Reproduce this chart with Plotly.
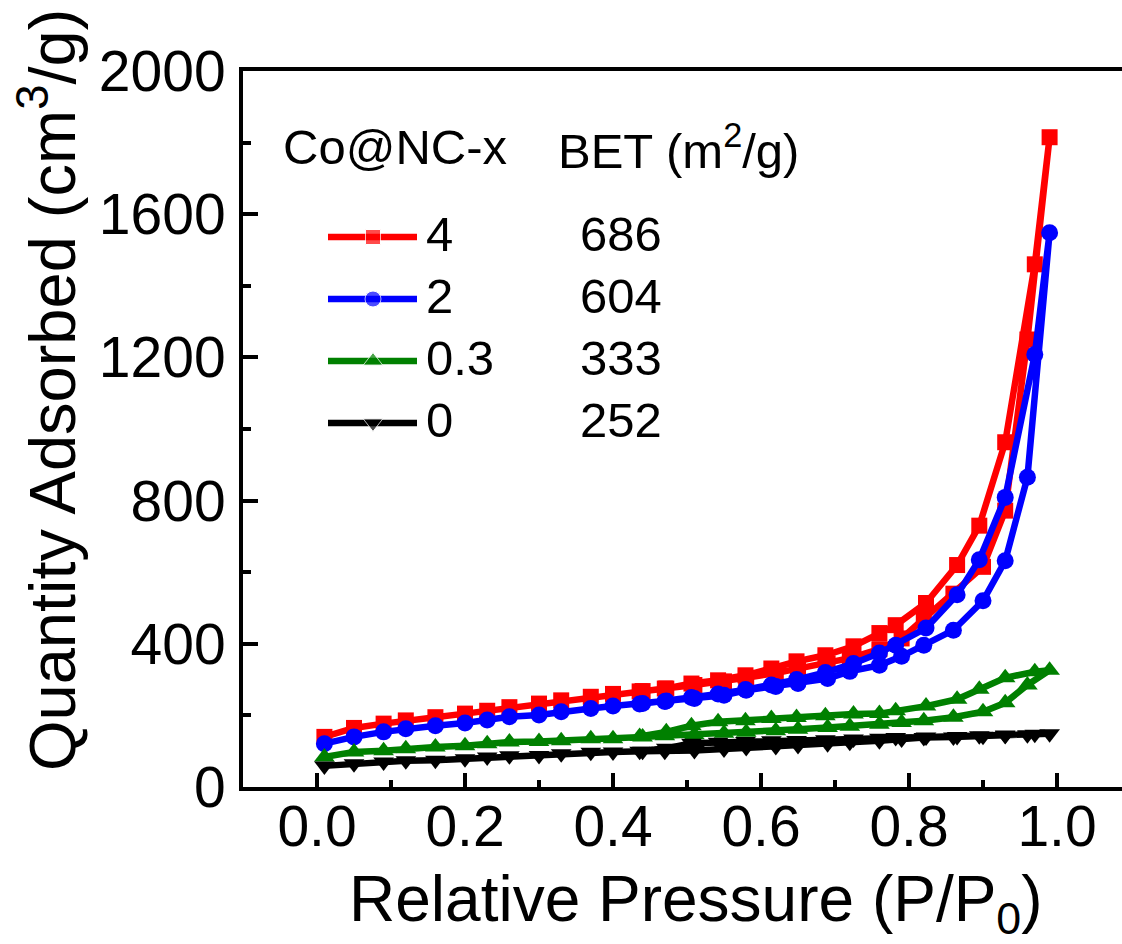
import plotly.graph_objects as go

# ---------------- data ----------------
ads_x = [0.01, 0.05, 0.09, 0.12, 0.16, 0.20, 0.23, 0.26, 0.30, 0.33, 0.37, 0.40, 0.44, 0.47,
         0.51, 0.55, 0.58, 0.62, 0.65, 0.69, 0.72, 0.76, 0.79, 0.82, 0.86, 0.90, 0.93, 0.96, 0.99]
des_x = [0.97, 0.93, 0.895, 0.865, 0.823, 0.782, 0.76, 0.725, 0.687, 0.648, 0.614, 0.579,
         0.542, 0.506, 0.472, 0.436]

red_ads = [140, 165, 177, 186, 195, 205, 213, 223, 233, 242, 252, 260, 268, 275,
           285, 295, 305, 318, 330, 345, 360, 385, 415, 470, 540, 615, 772, 1250, 1815]
red_des = [1460, 963, 730, 620, 514, 452, 430, 393, 368, 351, 331, 312, 298, 289, 275, 267]

blue_ads = [121, 140, 154, 163, 171, 179, 187, 196, 201, 210, 219, 226, 233, 239,
            247, 256, 270, 281, 289, 303, 323, 340, 365, 396, 438, 520, 632, 865, 1548]
blue_des = [1208, 809, 635, 537, 444, 396, 374, 345, 320, 300, 285, 272, 260, 250, 240, 232]

green_ads = [84, 98, 101, 107, 112, 115, 121, 126, 127, 129, 135, 135, 140, 143,
             146, 150, 153, 157, 161, 166, 170, 175, 180, 185, 195, 210, 235, 285, 326]
green_des = [322, 305, 273, 245, 226, 213, 205, 204, 199, 194, 191, 185, 182, 171, 154, 141]

black_ads = [59, 65, 70, 73, 75, 79, 84, 87, 88, 93, 97, 98, 100, 100,
             102, 106, 110, 113, 116, 121, 125, 129, 134, 138, 140, 142, 144, 146, 149]
black_des = [147, 145, 143, 141, 140, 138, 136, 134, 132, 130, 129, 127, 125, 122, 108, 100]

samples = ["4", "2", "0.3", "0"]
bet_values = ["686", "604", "333", "252"]
colors = ["#FF0000", "#0000FF", "#008000", "#000000"]
symbols = ["square", "circle", "triangle-up", "triangle-down"]
marker_sizes = [16, 17, 18, 18]
series = [(red_ads, red_des), (blue_ads, blue_des), (green_ads, green_des), (black_ads, black_des)]

x_ticks = [0.0, 0.2, 0.4, 0.6, 0.8, 1.0]
y_ticks = [0, 400, 800, 1200, 1600, 2000]

# ---------------- layout constants ----------------
W, H = 1122, 944
L, R, T, B = 243, 0, 71, 157
PW, PH = W - L - R, H - T - B
FONT = "Liberation Sans, Arial, Helvetica, sans-serif"


def px_x(p):
    return (p - L) / PW


def px_y(p):
    return (H - B - p) / PH


fig = go.Figure()

for (ads, des), name, c, s, ms in zip(series, samples, colors, symbols, marker_sizes):
    fig.add_trace(go.Scatter(
        x=ads_x + des_x, y=ads + des, mode="lines+markers", name=name,
        line=dict(color=c, width=6.5), marker=dict(symbol=s, size=ms, color=c),
        showlegend=False))

# ---------------- custom legend (overlay axes in pixel units) ----------------
leg_rows = [237, 299, 361, 423]
for name, c, s, ms, yy in zip(samples, colors, symbols, marker_sizes, leg_rows):
    fig.add_trace(go.Scatter(
        x=[328, 373, 417], y=[yy, yy, yy], xaxis="x2", yaxis="y2",
        mode="lines+markers", line=dict(color=c, width=6.5),
        marker=dict(symbol=s, size=[0, ms - 1, 0], color=c),
        showlegend=False, hoverinfo="skip"))

annotations = []
annotations.append(dict(text="Co@NC-x", x=px_x(281), y=px_y(147), xanchor="left", yanchor="middle"))
annotations.append(dict(text="BET (m<sup>2</sup>/g)", x=px_x(556), y=px_y(147), xanchor="left", yanchor="middle"))
for name, bet, yy in zip(samples, bet_values, leg_rows):
    annotations.append(dict(text=name, x=px_x(424), y=px_y(yy - 3), xanchor="left", yanchor="middle"))
    annotations.append(dict(text=bet, x=px_x(578), y=px_y(yy - 3), xanchor="left", yanchor="middle"))
for a in annotations:
    a.update(xref="paper", yref="paper", showarrow=False, font=dict(family=FONT, size=49, color="black"))

annotations.append(dict(text="Quantity Adsorbed (cm<sup>3</sup>/g)", x=px_x(48), y=px_y(390),
                        xref="paper", yref="paper", showarrow=False, textangle=-90,
                        xanchor="center", yanchor="middle",
                        font=dict(family=FONT, size=65, color="black")))
annotations.append(dict(text="Relative Pressure (P/P<sub>0</sub>)", x=px_x(696), y=px_y(903),
                        xref="paper", yref="paper", showarrow=False,
                        xanchor="center", yanchor="middle",
                        font=dict(family=FONT, size=64, color="black")))

fig.update_layout(
    width=W, height=H, margin=dict(l=L, r=R, t=T, b=B),
    paper_bgcolor="white", plot_bgcolor="white",
    font=dict(family=FONT, color="black"),
    annotations=annotations,
    xaxis=dict(range=[-0.1, -0.1 + PW / 740.0], tickvals=x_ticks, ticktext=[f"{v:.1f}" for v in x_ticks],
               ticks="inside", ticklen=14, tickwidth=4, tickcolor="black",
               minor=dict(dtick=0.1, tick0=0, ticks="inside", ticklen=7, tickwidth=4, tickcolor="black"),
               showline=True, linewidth=4, linecolor="black", mirror=True,
               showgrid=False, zeroline=False, ticklabelstandoff=-13,
               tickfont=dict(family=FONT, size=57, color="black")),
    yaxis=dict(range=[0, 2000], tickvals=y_ticks,
               ticks="inside", ticklen=15, tickwidth=4, tickcolor="black",
               minor=dict(dtick=200, tick0=0, ticks="inside", ticklen=8, tickwidth=4, tickcolor="black"),
               showline=True, linewidth=4, linecolor="black",
               showgrid=False, zeroline=False, ticklabelstandoff=2,
               tickfont=dict(family=FONT, size=57, color="black")),
    xaxis2=dict(range=[L, W - R], overlaying="x", visible=False, domain=[0, 1]),
    yaxis2=dict(range=[H - B, T], overlaying="y", visible=False),
)

fig.write_html("out.html")
